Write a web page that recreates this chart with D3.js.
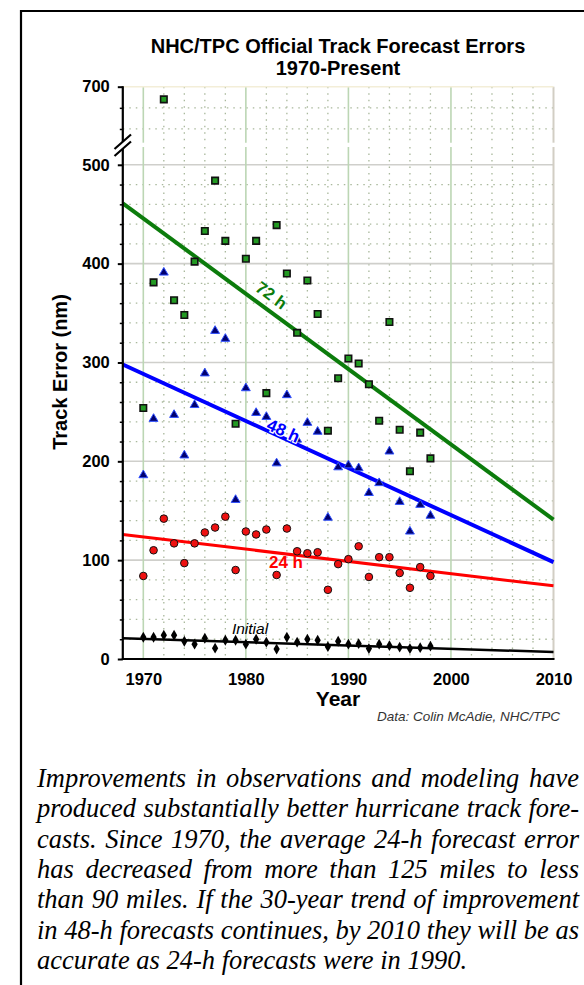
<!DOCTYPE html>
<html>
<head>
<meta charset="utf-8">
<script src="https://cdn.jsdelivr.net/npm/d3@7"></script>
<style>
  html, body { margin: 0; padding: 0; background: #ffffff; }
  svg text { font-family: Arial, "Liberation Sans", sans-serif; }
  svg text.caption { font-family: "Liberation Serif", "Times New Roman", serif; font-style: italic; font-size: 26.5px; }
</style>
</head>
<body>
<svg id="chart" width="584" height="985"></svg>
<script>
/*
 * NHC/TPC official track forecast errors, 1970 - present
 */

// years with a verified forecast
var years = d3.range(1970, 1999);

// mean errors (nm)
var errInitial = [22, 22, 24, 24, 18, 15, 21, 11, 19, 19, 15, 20, 17, 10, 22, 17, 20, 19, 12.5, 18, 15, 15.5, 10.5, 15, 13.5, 12, 10.5, 11.5, 13];
var err24 = [84, 110, 142, 117, 97, 117, 128, 133, 144, 90, 129, 126, 131, 85, 132, 109, 107, 108, 70, 96, 101, 114, 83, 103, 103, 87, 72, 93, 84];
var err48 = [186, 243, 391, 247, 206, 257, 289, 332, 324, 161, 274, 249, 245, 198, 267, 222, 239, 230, 143, 194, 196, 193, 168, 178, 210, 159, 129, 156, 145];
var err72 = [254, 381, 688, 363, 348, 402, 433, 484, 423, 238, 405, 423, 269, 439, 390, 330, 383, 349, 231, 284, 304, 299, 278, 241, 341, 232, 190, 229, 203];

// trend lines, end points [year, nm]
var trendInitial = [[1968, 21], [2010, 7]];
var trend24 = [[1968, 126], [2010, 74]];
var trend48 = [[1968, 298], [2010, 98]];
var trend72 = [[1968, 461], [2010, 141]];

// axis ticks
var xTicks = [1970, 1980, 1990, 2000, 2010];
var yTicks = [0, 100, 200, 300, 400, 500, 700];
var yMinor = d3.range(20, 500, 20).filter(function(v) { return v % 100 !== 0; }).concat([660, 680]);
var xMinor = d3.range(1972, 2010, 2).filter(function(v) { return v % 10 !== 0; });

var captionLines = [
    "Improvements in observations and modeling have",
    "produced substantially better hurricane track fore-",
    "casts. Since 1970, the average 24-h forecast error",
    "has decreased from more than 125 miles to less",
    "than 90 miles. If the 30-year trend of improvement",
    "in 48-h forecasts continues, by 2010 they will be as",
    "accurate as 24-h forecasts were in 1990."
];

var svg = d3.select("#chart");

// plot box
var plotL = 122.8, plotR = 553.5, plotT = 86.7, plotB = 659;
var breakLo = 147, breakHi = 142.7;   // gap of the broken y axis

var x = d3.scaleLinear().domain([1968, 2010]).range([plotL, plotR]);
// broken scale: 0-518 below the break, 647-700 above it
var y = d3.scaleLinear().domain([0, 518, 647, 700]).range([plotB, breakLo, breakHi, plotT]);

// page frame
svg.append("path").attr("d", "M21,985V11H584")
    .attr("fill", "none").attr("stroke", "#000").attr("stroke-width", 2.2);

// title
svg.append("text").attr("x", 338).attr("y", 53).attr("text-anchor", "middle")
    .style("font-size", "20px").style("font-weight", "bold")
    .text("NHC/TPC Official Track Forecast Errors");
svg.append("text").attr("x", 338).attr("y", 75).attr("text-anchor", "middle")
    .style("font-size", "20px").style("font-weight", "bold")
    .text("1970-Present");

var grid = svg.append("g").attr("class", "grid");

// segments of the plot height (skip the break)
var vSegs = [[plotT, breakHi], [breakLo, plotB]];

// dotted minor grid
grid.selectAll("line.hminor").data(yMinor).enter().append("line")
    .attr("class", "hminor")
    .attr("x1", plotL).attr("x2", plotR)
    .attr("y1", function(d) { return y(d); }).attr("y2", function(d) { return y(d); })
    .attr("stroke", "#a9b89c").attr("stroke-width", 1.3).attr("stroke-dasharray", "1.5,5");
xMinor.forEach(function(v) {
    vSegs.forEach(function(s) {
        grid.append("line")
            .attr("x1", x(v)).attr("x2", x(v)).attr("y1", s[0]).attr("y2", s[1])
            .attr("stroke", "#a9b89c").attr("stroke-width", 1.3).attr("stroke-dasharray", "1.5,5");
    });
});

// major grid
grid.selectAll("line.hmajor").data([100, 200, 300, 400, 500]).enter().append("line")
    .attr("class", "hmajor")
    .attr("x1", plotL).attr("x2", plotR)
    .attr("y1", function(d) { return y(d); }).attr("y2", function(d) { return y(d); })
    .attr("stroke", "#cfcfcb").attr("stroke-width", 1.6);
[1970, 1980, 1990, 2000].forEach(function(v) {
    vSegs.forEach(function(s) {
        grid.append("line")
            .attr("x1", x(v)).attr("x2", x(v)).attr("y1", s[0]).attr("y2", s[1])
            .attr("stroke", "#bcd6b4").attr("stroke-width", 1.6);
    });
});
vSegs.forEach(function(s) {
    grid.append("line")
        .attr("x1", x(2010)).attr("x2", x(2010)).attr("y1", s[0]).attr("y2", s[1])
        .attr("stroke", "#d2cec4").attr("stroke-width", 2);
});
grid.append("line").attr("x1", plotL).attr("x2", plotR).attr("y1", plotT).attr("y2", plotT)
    .attr("stroke", "#f3eed8").attr("stroke-width", 1.5);

// trend lines
var line = d3.line().x(function(d) { return x(d[0]); }).y(function(d) { return y(d[1]); });
var trends = [
    { pts: trend72, color: "#0c7c0c", width: 4 },
    { pts: trend48, color: "#0000ff", width: 4 },
    { pts: trend24, color: "#ff0000", width: 3 },
    { pts: trendInitial, color: "#000000", width: 2.5 }
];
svg.append("g").selectAll("path").data(trends).enter().append("path")
    .attr("d", function(d) { return line(d.pts); })
    .attr("fill", "none")
    .attr("stroke", function(d) { return d.color; })
    .attr("stroke-width", function(d) { return d.width; });

// series markers
var marks = svg.append("g").attr("class", "marks");
var rows = function(arr) {
    return arr.map(function(v, i) { return { year: years[i], v: v }; });
};
var tr = function(d) { return "translate(" + x(d.year) + "," + y(d.v) + ")"; };

marks.append("g").selectAll("path").data(rows(err72)).enter().append("path")
    .attr("d", d3.symbol().type(d3.symbolSquare).size(42))
    .attr("transform", tr)
    .attr("fill", "#229a22").attr("stroke", "#111").attr("stroke-width", 1.6);

marks.append("g").selectAll("path").data(rows(err48)).enter().append("path")
    .attr("d", d3.symbol().type(d3.symbolTriangle).size(34))
    .attr("transform", tr)
    .attr("fill", "#000070").attr("stroke", "#3050ff").attr("stroke-width", 1);

marks.append("g").selectAll("circle").data(rows(err24)).enter().append("circle")
    .attr("cx", function(d) { return x(d.year); })
    .attr("cy", function(d) { return y(d.v); })
    .attr("r", 3.8)
    .attr("fill", "#ee1111").attr("stroke", "#111").attr("stroke-width", 1);

marks.append("g").selectAll("path").data(rows(errInitial)).enter().append("path")
    .attr("d", d3.symbol().type(d3.symbolDiamond).size(34))
    .attr("transform", tr)
    .attr("fill", "#000");

// series labels
var slope = function(t) {
    return Math.atan2(y(t[1][1]) - y(t[0][1]), x(t[1][0]) - x(t[0][0])) * 180 / Math.PI;
};
svg.append("text").attr("transform", "translate(268,300) rotate(" + slope(trend72) + ")")
    .attr("text-anchor", "middle")
    .style("font-size", "17px").style("font-weight", "bold").style("fill", "#0c7c0c")
    .text("72 h");
svg.append("text").attr("transform", "translate(281,436) rotate(" + slope(trend48) + ")")
    .attr("text-anchor", "middle")
    .style("font-size", "17px").style("font-weight", "bold").style("fill", "#0000ff")
    .style("stroke", "#fff").style("stroke-width", 2.5).style("paint-order", "stroke")
    .text("48 h");
svg.append("text").attr("x", 286).attr("y", 568).attr("text-anchor", "middle")
    .style("font-size", "17px").style("font-weight", "bold").style("fill", "#ff0000")
    .text("24 h");
svg.append("text").attr("x", 250).attr("y", 634).attr("text-anchor", "middle")
    .style("font-size", "15.5px").style("font-style", "italic")
    .text("Initial");

// y axis (drawn in two pieces around the break)
var yAxis = svg.append("g").attr("transform", "translate(" + plotL + ",0)");
yAxis.call(d3.axisLeft(y).tickValues(yTicks).tickSize(5).tickPadding(8));
yAxis.select(".domain").remove();
yAxis.selectAll("text").style("font-size", "16.5px").style("font-weight", "bold")
    .style("font-family", "Arial, 'Liberation Sans', sans-serif");
yAxis.selectAll("line").attr("stroke-width", 2);
var yAxisMinor = svg.append("g").attr("transform", "translate(" + plotL + ",0)");
yAxisMinor.call(d3.axisLeft(y).tickValues(yMinor).tickSize(3).tickFormat(""));
yAxisMinor.select(".domain").remove();
yAxisMinor.selectAll("line").attr("stroke-width", 1.5);

vSegs.forEach(function(s) {
    svg.append("line").attr("x1", plotL).attr("x2", plotL).attr("y1", s[0] - 0.5).attr("y2", s[1] + 1)
        .attr("stroke", "#000").attr("stroke-width", 2.2);
});
// break marks
svg.append("path").attr("d", "M114.5,149L131,134.5L131,141.5L114.5,156Z").attr("fill", "#fff");
svg.append("path").attr("d", "M114.5,149L131,134.5M114.5,156L131,141.5")
    .attr("stroke", "#000").attr("stroke-width", 2.2);

// x axis
var xAxis = svg.append("g").attr("transform", "translate(0," + plotB + ")");
xAxis.call(d3.axisBottom(x).tickValues(xTicks).tickSize(0).tickPadding(14).tickFormat(d3.format("d")));
xAxis.select(".domain").remove();
xAxis.selectAll("text").style("font-size", "16.5px").style("font-weight", "bold")
    .style("font-family", "Arial, 'Liberation Sans', sans-serif");
svg.append("line").attr("x1", plotL - 1).attr("x2", plotR + 1).attr("y1", plotB).attr("y2", plotB)
    .attr("stroke", "#000").attr("stroke-width", 2.2);

// axis titles
svg.append("text").attr("x", 338).attr("y", 706).attr("text-anchor", "middle")
    .style("font-size", "21px").style("font-weight", "bold")
    .text("Year");
svg.append("text").attr("transform", "translate(67,372) rotate(-90)").attr("text-anchor", "middle")
    .style("font-size", "20px").style("font-weight", "bold")
    .text("Track Error (nm)");
svg.append("text").attr("x", 560).attr("y", 721).attr("text-anchor", "end")
    .style("font-size", "13.5px").style("font-style", "italic").style("fill", "#333")
    .text("Data: Colin McAdie, NHC/TPC");

// caption, justified line by line (last line left as set)
var capLeft = 37, capRight = 579, capTop = 787, capStep = 30.3;
var cap = svg.append("g");
captionLines.forEach(function(txt, i) {
    var t = cap.append("text").attr("class", "caption").attr("y", capTop + i * capStep);
    if (i === captionLines.length - 1) {
        t.attr("x", capLeft).text(txt);
        return;
    }
    var words = txt.split(" ");
    var spans = words.map(function(w) { return t.append("tspan").text(w); });
    var widths = spans.map(function(s) { return s.node().getComputedTextLength(); });
    var gap = (capRight - capLeft - d3.sum(widths)) / (words.length - 1);
    var pos = capLeft;
    spans.forEach(function(s, j) {
        s.attr("x", pos);
        pos += widths[j] + gap;
    });
});
</script>
</body>
</html>
